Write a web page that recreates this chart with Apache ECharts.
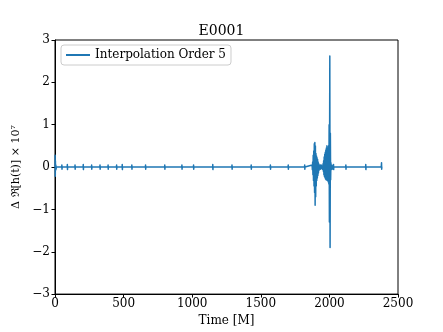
<!DOCTYPE html>
<html>
<head>
<meta charset="utf-8">
<script src="https://cdn.jsdelivr.net/npm/echarts@6/dist/echarts.min.js"></script>
<style>
  html, body { margin: 0; padding: 0; background: #fff; }
  #chart { width: 443px; height: 332px; }
</style>
</head>
<body>
<div id="chart"></div>
<script>
// 数据：时间 (M) 与 对应的 Δ Re[h(t)] × 10^7
var times = [
  0, 1, 2, 3, 4, 6, 8, 10,
  49, 50, 51, 52, 89, 90, 91, 92, 145, 146, 147, 148, 205, 206, 207, 208, 266, 267, 268, 269,
  327, 328, 329, 330, 386, 387, 388, 389, 448, 449, 450, 451, 489, 490, 491, 492, 559, 560, 561, 562,
  659, 660, 661, 662, 799, 800, 801, 802, 924, 925, 926, 927, 1009, 1010, 1011, 1012, 1149, 1150, 1151, 1152,
  1289, 1290, 1291, 1292, 1429, 1430, 1431, 1432, 1569, 1570, 1571, 1572, 1699, 1700, 1701, 1702, 1819, 1820, 1821, 1822,
  1874, 1876, 1878, 1880, 1882, 1884, 1886, 1888, 1890, 1892, 1894, 1896, 1898, 1900,
  1902, 1904, 1906, 1908, 1910, 1912, 1914, 1916, 1918, 1920, 1922, 1924, 1926,
  1928, 1932, 1936, 1940, 1950, 1954, 1956, 1958, 1960, 1962, 1964, 1966, 1968,
  1970, 1972, 1974, 1976, 1978, 1980, 1982, 1984, 1986, 1988, 1990, 1992, 1994,
  1996, 1998, 2000, 2003, 2005, 2007, 2009, 2011, 2013, 2016, 2020, 2030, 2031,
  2032, 2119, 2120, 2121, 2122, 2264, 2265, 2266, 2267, 2378, 2380, 2381, 2382
];
var deltaRe = [
  0, 0.28, -0.22, 0.15, -0.08, 0.05, -0.05, 0,
  0, 0.05, -0.05, 0, 0, 0.06, -0.06, 0, 0, 0.05, -0.05, 0, 0, 0.06, -0.06, 0, 0, 0.05, -0.05, 0,
  0, 0.05, -0.05, 0, 0, 0.05, -0.05, 0, 0, 0.05, -0.05, 0, 0, 0.06, -0.06, 0, 0, 0.05, -0.05, 0,
  0, 0.05, -0.05, 0, 0, 0.05, -0.05, 0, 0, 0.05, -0.05, 0, 0, 0.05, -0.05, 0, 0, 0.06, -0.06, 0,
  0, 0.05, -0.05, 0, 0, 0.05, -0.05, 0, 0, 0.05, -0.05, 0, 0, 0.05, -0.05, 0, 0, 0.05, -0.05, 0,
  0.05, -0.06, 0.12, -0.18, 0.28, -0.32, 0.38, -0.45, 0.55, -0.6, 0.58, -0.9, 0.5, -0.7,
  0.32, -0.45, 0.26, -0.32, 0.22, -0.26, 0.18, -0.2, 0.12, -0.14, 0.08, -0.08, 0.05,
  -0.05, 0.05, -0.05, 0.05, -0.05, 0.08, -0.1, 0.15, -0.18, 0.24, -0.22, 0.3, -0.25,
  0.35, -0.28, 0.4, -0.3, 0.45, -0.3, 0.5, -0.32, 0.45, -0.3, 0.4, -0.35, 0.5,
  -0.4, 1.0, -1.3, 2.62, -1.9, 0.8, -0.3, 0.1, -0.06, 0.05, -0.05, 0.06, -0.06,
  0, 0, 0.05, -0.05, 0, 0, 0.06, -0.06, 0, 0, 0.1, -0.05, 0
];
var xTicks = [0, 500, 1000, 1500, 2000, 2500];
var yTicks = [-3, -2, -1, 0, 1, 2, 3];

(function () {
  var chart = echarts.init(document.getElementById('chart'), null, { renderer: 'canvas' });
  var pts = times.map(function (t, i) { return [t, deltaRe[i]]; });
  var font = 'DejaVu Serif';
  var minus = function (v) { return String(v).replace('-', '\u2212'); };

  var option = {
    backgroundColor: '#fff',
    animation: false,
    textStyle: { fontFamily: font },
    title: {
      text: 'E0001',
      left: 'center',
      top: 19,
      textStyle: { fontFamily: font, fontSize: 14, fontWeight: 'normal', color: '#000' }
    },
    legend: {
      left: 61, top: 45,
      padding: [4, 5, 4, 5],
      borderColor: '#ccc', borderWidth: 1, borderRadius: 3,
      backgroundColor: '#fff',
      icon: 'rect', itemWidth: 24, itemHeight: 2, itemGap: 8,
      textStyle: { fontFamily: font, fontSize: 12, color: '#000' },
      data: ['Interpolation Order 5']
    },
    grid: {
      left: 55, right: 45, top: 40, bottom: 36,
      show: true, borderColor: '#000', borderWidth: 1
    },
    xAxis: {
      type: 'value',
      min: xTicks[0], max: xTicks[xTicks.length - 1], interval: 500,
      name: 'Time [M]', nameLocation: 'middle', nameGap: 18,
      nameTextStyle: { fontFamily: font, fontSize: 12, color: '#000' },
      axisLine: { show: true, onZero: false, lineStyle: { color: '#000' } },
      axisTick: { show: true, inside: false, length: 3.5, lineStyle: { color: '#000' } },
      axisLabel: { fontFamily: font, fontSize: 12, color: '#000', margin: 4,
        formatter: function (v) { return String(v); } },
      splitLine: { show: false }
    },
    yAxis: {
      type: 'value',
      min: yTicks[0], max: yTicks[yTicks.length - 1], interval: 1,
      name: 'Δ ℜ[h(t)] × 10⁷', nameLocation: 'middle', nameGap: 23, nameRotate: 90,
      nameTextStyle: { fontFamily: font, fontSize: 11, color: '#000' },
      axisLine: { show: true, onZero: false, lineStyle: { color: '#000' } },
      axisTick: { show: true, inside: false, length: 3.5, lineStyle: { color: '#000' } },
      axisLabel: { fontFamily: font, fontSize: 12, color: '#000', margin: 5, formatter: minus },
      splitLine: { show: false }
    },
    series: [{
      name: 'Interpolation Order 5',
      type: 'line',
      data: pts,
      symbol: 'none',
      lineStyle: { color: '#1f77b4', width: 1.5, join: 'round', cap: 'round' },
      itemStyle: { color: '#1f77b4' }
    }]
  };
  chart.setOption(option);
})();
</script>
</body>
</html>
